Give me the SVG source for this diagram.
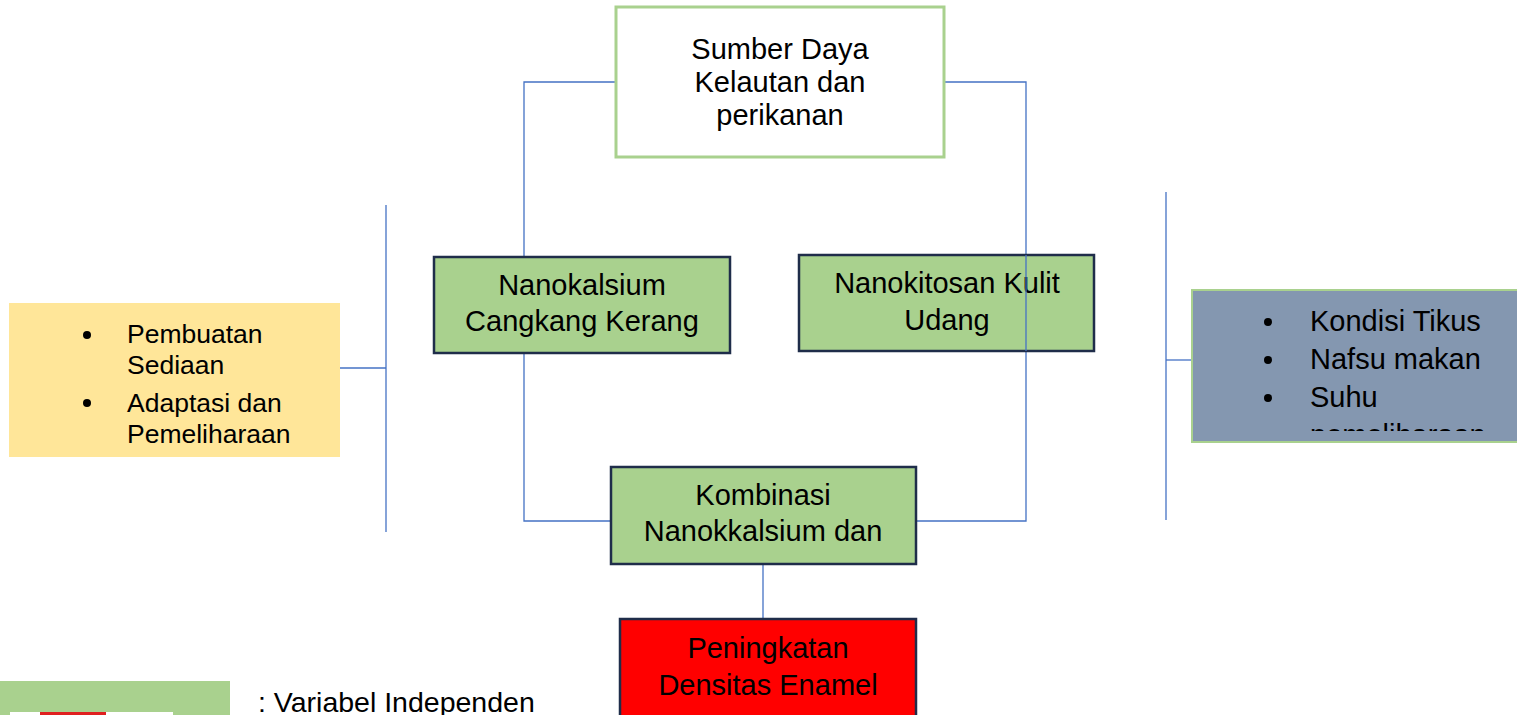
<svg xmlns="http://www.w3.org/2000/svg" width="1517" height="715" viewBox="0 0 1517 715">
<style>
.t{font-family:"Liberation Sans",Arial,sans-serif;font-size:29px;fill:#000;text-anchor:middle}
.l{font-family:"Liberation Sans",Arial,sans-serif;font-size:26.5px;fill:#000}
.g{font-family:"Liberation Sans",Arial,sans-serif;font-size:29px;fill:#000}
.lg{font-family:"Liberation Sans",Arial,sans-serif;font-size:28.5px;fill:#000}
.c{fill:none;stroke:#4472C4;stroke-width:1.3}
.gn{fill:#A9D18E;stroke:#1F2D4A;stroke-width:2.5}
</style>
<defs>
<clipPath id="gc"><rect x="1192" y="290" width="325" height="141"/></clipPath>
</defs>
<rect width="1517" height="715" fill="#fff"/>
<g id="connectors">
<polyline class="c" points="616,82 524,82 524,257"/>
<polyline class="c" points="524,353 524,521 611,521"/>
<polyline class="c" points="944,82 1026,82 1026,521 916,521"/>
<line class="c" x1="763" y1="564" x2="763" y2="619"/>
<line class="c" x1="340" y1="368" x2="386" y2="368"/>
<line class="c" x1="386" y1="205" x2="386" y2="532"/>
<line class="c" x1="1166" y1="192" x2="1166" y2="520"/>
<line class="c" x1="1166" y1="360" x2="1192" y2="360"/>
</g>
<g id="sumber">
<rect x="616" y="7" width="328" height="150" fill="#fff" stroke="#A9D18E" stroke-width="3"/>
<text class="t" x="780" y="59">Sumber Daya</text>
<text class="t" x="780" y="92">Kelautan dan</text>
<text class="t" x="780" y="125">perikanan</text>
</g>
<g id="nanokalsium">
<rect class="gn" x="434" y="257" width="296" height="96"/>
<text class="t" x="582" y="295">Nanokalsium</text>
<text class="t" x="582" y="331">Cangkang Kerang</text>
</g>
<g id="nanokitosan">
<rect class="gn" x="799" y="255" width="295" height="96"/>
<text class="t" x="947" y="293">Nanokitosan Kulit</text>
<text class="t" x="947" y="330">Udang</text>
</g>
<line class="c" x1="1026" y1="255" x2="1026" y2="351"/>
<g id="kombinasi">
<rect class="gn" x="611" y="467" width="305" height="97"/>
<text class="t" x="763" y="505">Kombinasi</text>
<text class="t" x="763" y="541">Nanokkalsium dan</text>
</g>
<g id="peningkatan">
<rect x="620" y="619" width="296" height="100" fill="#FF0000" stroke="#1F2D4A" stroke-width="2.5"/>
<text class="t" x="768" y="658">Peningkatan</text>
<text class="t" x="768" y="695">Densitas Enamel</text>
</g>
<g id="yellow">
<rect x="9" y="303" width="331" height="154" fill="#FFE699"/>
<circle cx="87" cy="335" r="4"/>
<circle cx="87" cy="403" r="4"/>
<text class="l" x="127" y="343">Pembuatan</text>
<text class="l" x="127" y="374">Sediaan</text>
<text class="l" x="127" y="412">Adaptasi dan</text>
<text class="l" x="127" y="443">Pemeliharaan</text>
</g>
<g id="gray">
<rect x="1192" y="290" width="330" height="152" fill="#8497B0" stroke="#A9D18E" stroke-width="2"/>
<circle cx="1268" cy="322" r="4"/>
<circle cx="1268" cy="360" r="4"/>
<circle cx="1268" cy="398" r="4"/>
<g clip-path="url(#gc)">
<text class="g" x="1310" y="331">Kondisi Tikus</text>
<text class="g" x="1310" y="369">Nafsu makan</text>
<text class="g" x="1310" y="407">Suhu</text>
<text class="g" x="1310" y="445">pemeliharaan</text>
</g>
</g>
<g id="legend">
<rect x="0" y="681" width="230" height="40" fill="#A9D18E"/>
<rect x="10" y="712" width="163" height="6" fill="#fff"/>
<rect x="40" y="712" width="66" height="6" fill="#E02020"/>
<text class="lg" x="258" y="712">: Variabel Independen</text>
</g>
</svg>
